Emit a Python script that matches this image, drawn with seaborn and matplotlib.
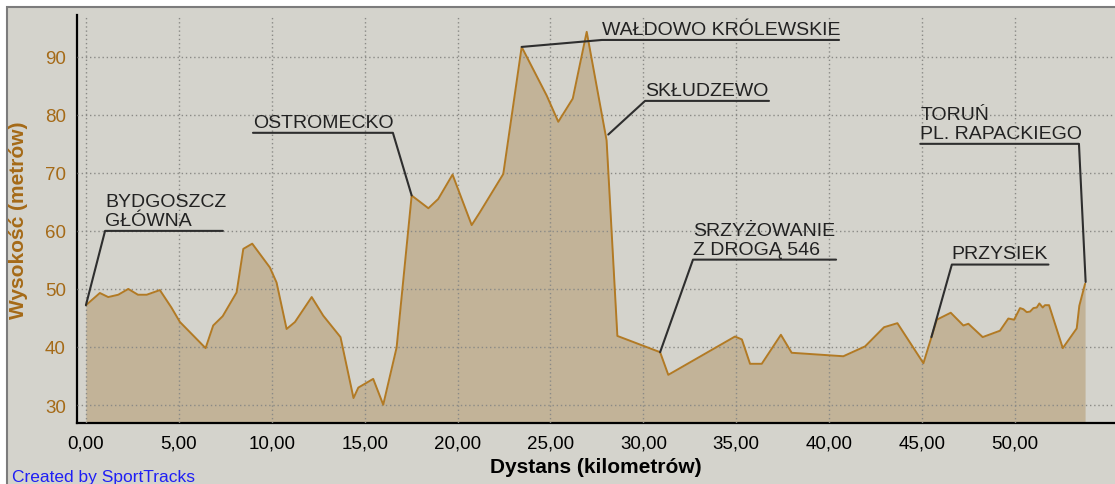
import numpy as np
import pandas as pd
import matplotlib
matplotlib.use("Agg")
import matplotlib.pyplot as plt
import seaborn as sns
from matplotlib.patches import Rectangle
from matplotlib.ticker import FuncFormatter

# =========================================
#  Data
# =========================================

distance_km = [
    0.0, 0.75, 1.2, 1.74, 2.28, 2.8, 3.27, 3.98, 4.6, 5.06,
    6.44, 6.85, 7.36, 8.11, 8.47, 8.95, 9.9, 10.26, 10.8, 11.25,
    12.15, 12.77, 13.7, 14.4, 14.66, 15.46, 16.0, 16.72, 17.53, 18.43,
    18.96, 19.73, 20.76, 21.2, 22.46, 23.45, 24.8, 25.42, 26.2, 26.95,
    28.02, 28.6, 30.9, 31.34, 34.93, 35.3, 35.74, 36.37, 37.4, 37.98,
    40.76, 41.93, 42.95, 43.67, 45.07, 45.79, 46.54, 47.22, 47.49, 48.26,
    49.19, 49.64, 49.95, 50.27, 50.45, 50.63, 50.81, 50.99, 51.17, 51.31,
    51.49, 51.61, 51.83, 52.57, 53.32, 53.46, 53.77,
]

elevation_m = [
    47.2, 49.3, 48.6, 49.0, 50.0, 49.0, 49.0, 49.8, 46.8, 44.3,
    39.8, 43.7, 45.3, 49.4, 56.9, 57.8, 53.7, 51.1, 43.1, 44.3,
    48.6, 45.4, 41.7, 31.2, 33.0, 34.5, 30.05, 39.9, 66.1, 63.9,
    65.5, 69.7, 61.0, 63.2, 69.8, 91.7, 83.3, 78.8, 82.8, 94.3,
    75.6, 41.9, 39.1, 35.2, 41.8, 41.3, 37.1, 37.1, 42.1, 39.0,
    38.4, 40.1, 43.4, 44.1, 37.2, 44.7, 45.9, 43.7, 44.0, 41.7,
    42.8, 44.9, 44.7, 46.7, 46.5, 46.0, 46.1, 46.7, 46.8, 47.5,
    46.8, 47.2, 47.2, 39.8, 43.2, 47.1, 50.9,
]

# place labels: text, underline height, underline span (km), point on profile
place_labels = ["BYDGOSZCZ\nGŁÓWNA", "OSTROMECKO", "WAŁDOWO KRÓLEWSKIE", "SKŁUDZEWO",
                "SRZYŻOWANIE\nZ DROGĄ 546", "PRZYSIEK", "TORUŃ\nPL. RAPACKIEGO"]
label_level = [60.0, 76.9, 92.9, 82.4, 55.05, 54.2, 75.0]
label_span = [(1.03, 7.37), (8.99, 16.52), (27.77, 40.53), (30.09, 36.76),
              (32.67, 40.37), (46.6, 51.8), (44.9, 53.44)]
label_target = [(0.0, 47.2), (17.53, 66.1), (23.45, 91.7), (28.11, 76.6),
                (30.9, 39.1), (45.5, 41.7), (53.8, 51.2)]

x_ticks = [0, 5, 10, 15, 20, 25, 30, 35, 40, 45, 50]
y_ticks = [30, 40, 50, 60, 70, 80, 90]

# =========================================
#  Style
# =========================================

BG = "#d4d3cc"
FILL = "#c2b398"
LINE = "#b27a24"
BROWN = "#a56a17"
TEXT = "#222222"

sns.set_style("white")
plt.rcParams["font.family"] = ["Liberation Sans", "DejaVu Sans"]

fig = plt.figure(figsize=(11.15, 4.85), dpi=100, facecolor="white")
fig.patches.append(Rectangle((7 / 1115, -0.05), 1.1, 1.05 - 8 / 485,
                             transform=fig.transFigure, facecolor=BG,
                             edgecolor="#7c7c7c", lw=1.5, zorder=-5))

ax = fig.add_axes([77 / 1115, 61 / 485, 1038 / 1115, 408 / 485])
ax.set_facecolor(BG)

y_bottom, y_top = 26.9, 97.2
ax.set_xlim(-0.48, 55.38)
ax.set_ylim(y_bottom, y_top)

df = pd.DataFrame({"km": distance_km, "elev": elevation_m})

ax.fill_between(df["km"], df["elev"], y_bottom, color=FILL, lw=0, zorder=1)
sns.lineplot(data=df, x="km", y="elev", ax=ax, color=LINE, lw=1.4,
             estimator=None, sort=False, zorder=3)

# grid on top of the fill
ax.set_axisbelow(False)
ax.grid(True, ls=(0, (1, 2)), color="#8a8a86", lw=1)

ax.set_xticks(x_ticks)
ax.set_yticks(y_ticks)
ax.xaxis.set_major_formatter(FuncFormatter(lambda v, _: f"{v:.2f}".replace(".", ",")))

ax.tick_params(axis="both", direction="out", length=5, width=1.3, color="black", pad=3,
               labelsize=13.5)
ax.tick_params(axis="y", labelcolor=BROWN)
ax.tick_params(axis="x", labelcolor="black")

for side in ["top", "right"]:
    ax.spines[side].set_visible(False)
for side in ["left", "bottom"]:
    ax.spines[side].set_color("black")
    ax.spines[side].set_linewidth(1.6)

ax.set_xlabel("Dystans (kilometrów)", fontsize=15, fontweight="bold", color="black")
ax.xaxis.set_label_coords(0.5, -0.083)
ax.set_ylabel("Wysokość (metrów)", fontsize=15, fontweight="bold", color=BROWN)
ax.yaxis.set_label_coords(-49 / 1038, 0.5)

# place annotations with leader lines
for label, level, (a, b), (tx, ty) in zip(place_labels, label_level, label_span, label_target):
    corner = a if abs(tx - a) <= abs(tx - b) else b
    other = b if corner == a else a
    ax.plot([tx, corner, other], [ty, level, level], color="#2e2e2e", lw=1.5, zorder=4)
    ax.annotate(label, xy=(a, level), xytext=(0, 1.5), textcoords="offset points",
                ha="left", va="bottom", fontsize=14, color=TEXT, linespacing=1.15,
                zorder=5)

fig.text(12 / 1115, 2.5 / 485, "Created by SportTracks", color="#1f1ff5",
         fontsize=12.5, ha="left", va="baseline")

fig.savefig("out.png", dpi=100, facecolor=fig.get_facecolor())
